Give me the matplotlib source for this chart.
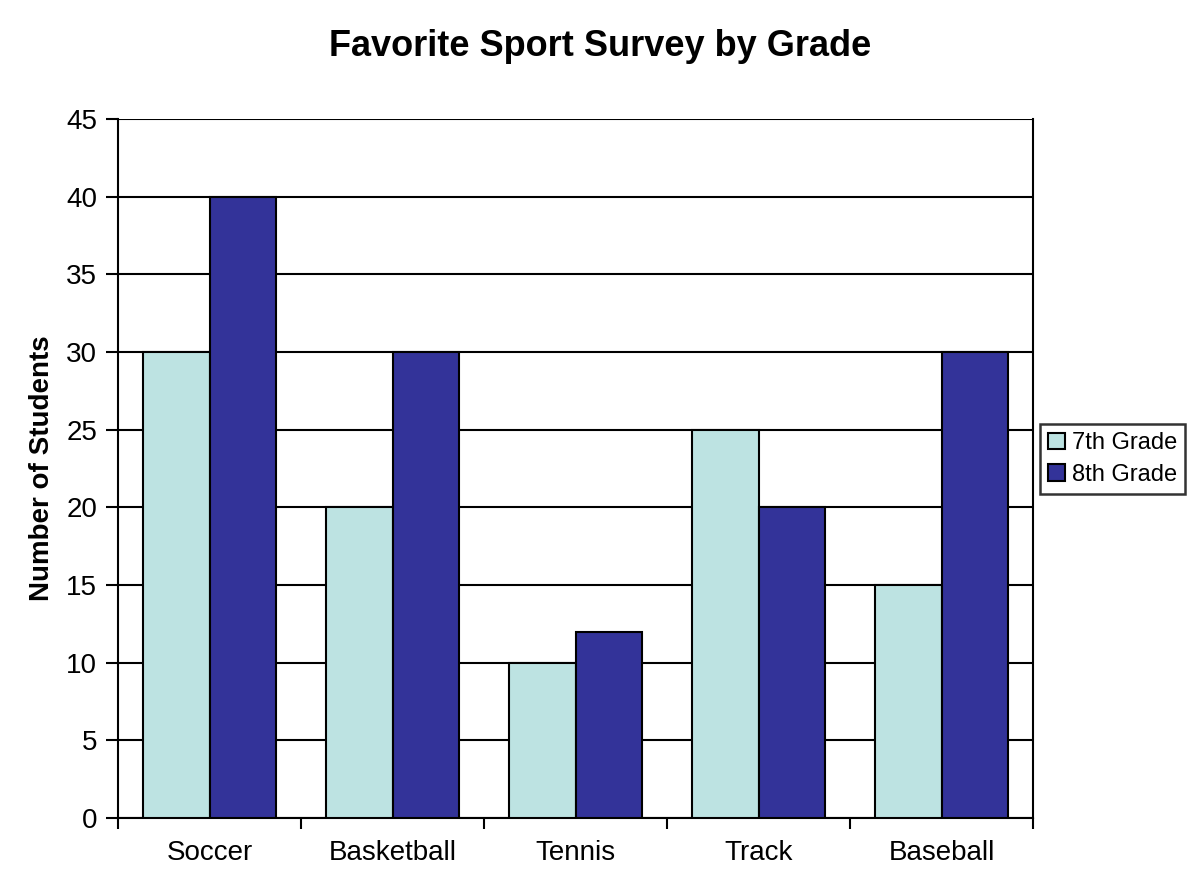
import matplotlib
matplotlib.use("Agg")
import matplotlib.pyplot as plt
import numpy as np

categories = ["Soccer", "Basketball", "Tennis", "Track", "Baseball"]
grade7 = [30, 20, 10, 25, 15]
grade8 = [40, 30, 12, 20, 30]
series_names = ["7th Grade", "8th Grade"]
yticks = list(range(0, 50, 5))

plt.rcParams['font.family'] = ['Liberation Sans', 'DejaVu Sans']

fig = plt.figure(figsize=(12, 8.96), dpi=100)
ax = fig.add_axes([118/1200, 1-818/896, (1033-118)/1200, (818-119)/896])

x = np.arange(len(categories))
w = 0.365
ax.bar(x - w/2, grade7, w, color="#BDE3E2", edgecolor="black", linewidth=1.5, label=series_names[0], zorder=3)
ax.bar(x + w/2, grade8, w, color="#333399", edgecolor="black", linewidth=1.5, label=series_names[1], zorder=3)

ax.set_xlim(-0.5, len(categories) - 0.5)
ax.set_ylim(0, 45)
ax.set_yticks(yticks)
ax.set_yticklabels([str(v) for v in yticks], fontsize=20)
ax.yaxis.grid(True, color="black", linewidth=1.5, zorder=0)
ax.set_axisbelow(True)

ax.set_xticks(np.arange(len(categories) + 1) - 0.5)
ax.set_xticklabels([])
ax.set_xticks(x, minor=True)
ax.set_xticklabels(categories, minor=True, fontsize=20)
ax.tick_params(axis='x', which='minor', length=0, pad=16)
ax.tick_params(axis='x', which='major', length=8, width=1.5, direction='out')
ax.tick_params(axis='y', length=9, width=1.5, direction='out', pad=6)

for s in ax.spines.values():
    s.set_linewidth(1.5)
ax.spines['top'].set_visible(False)

ax.set_ylabel("Number of Students", fontsize=20, fontweight='bold', labelpad=8)
fig.text(0.5, 1-47/896, "Favorite Sport Survey by Grade", ha='center', va='center',
         fontsize=26, fontweight='bold')

leg = fig.legend(loc='center left', bbox_to_anchor=(1040/1200, 1-459/896), fontsize=17,
                 frameon=True, fancybox=False, edgecolor='black', handlelength=0.7,
                 handleheight=0.7, handletextpad=0.3, borderpad=0.35, labelspacing=0.4,
                 borderaxespad=0)
leg.get_frame().set_linewidth(1.8)

fig.savefig("out.png", dpi=100, facecolor="white")
